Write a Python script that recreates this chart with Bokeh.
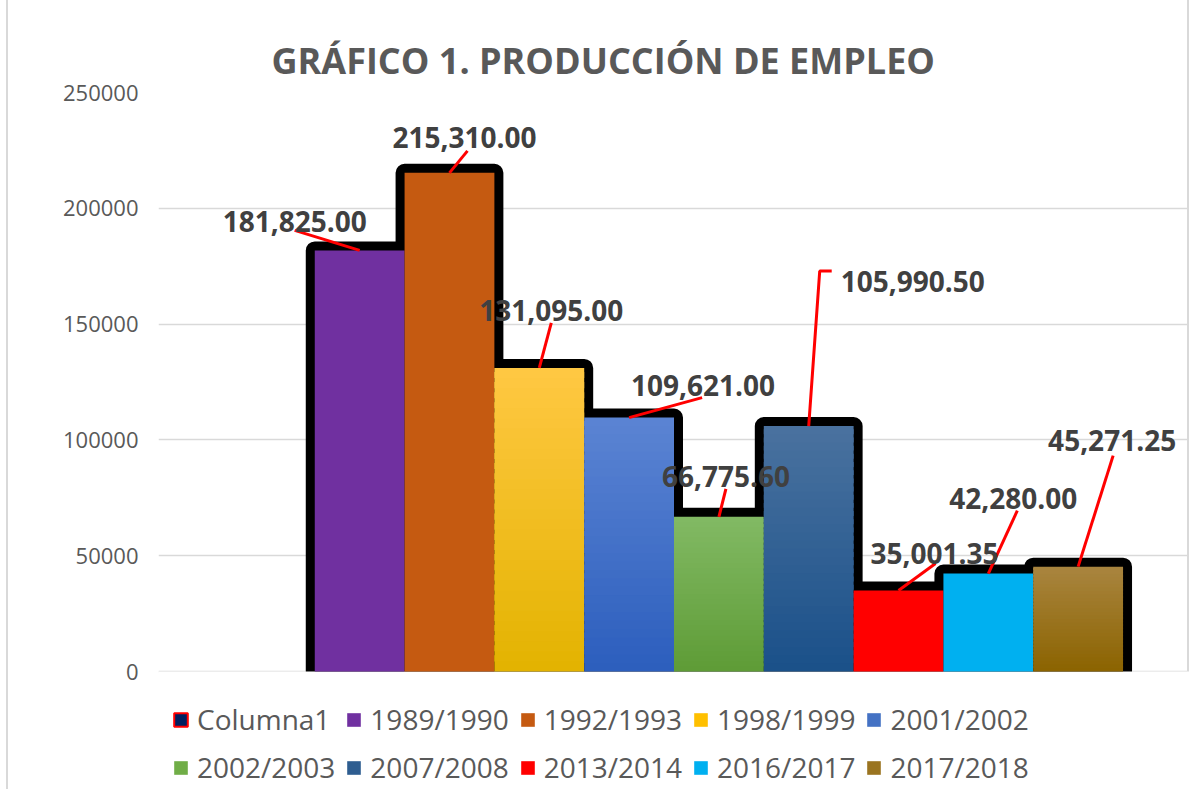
from bokeh.plotting import figure
from bokeh.models import Range1d, FixedTicker, NumeralTickFormatter, Legend, LegendItem, ColumnDataSource
from bokeh.embed import file_html
from bokeh.resources import INLINE
from bokeh.core.properties import value

# ---------------- data ----------------
title_text = "GRÁFICO 1. PRODUCCIÓN DE EMPLEO"
legend_names = ["Columna1", "1989/1990", "1992/1993", "1998/1999", "2001/2002",
                "2002/2003", "2007/2008", "2013/2014", "2016/2017", "2017/2018"]
bar_names = ["1989/1990", "1992/1993", "1998/1999", "2001/2002",
             "2002/2003", "2007/2008", "2013/2014", "2016/2017", "2017/2018"]
bar_values = [181825.00, 215310.00, 131095.00, 109621.00,
              66775.60, 105990.50, 35001.35, 42280.00, 45271.25]
y_ticks = [0, 50000, 100000, 150000, 200000, 250000]

# ---------------- styles ----------------
top_colors = ["#7030A0", "#C55A11", "#FFC843", "#5B84D3", "#82B964", "#4A729F", "#FF0000", "#00B0F0", "#A9853F"]
bot_colors = ["#7030A0", "#C55A11", "#E3B300", "#2C5EBD", "#5E9C36", "#1A5089", "#FF0000", "#00B0F0", "#8B6300"]
legend_colors = ["#002060", "#7030A0", "#C55A11", "#FFC000", "#4472C4",
                 "#70AD47", "#2E5D90", "#FF0000", "#00B0F0", "#9A7420"]
# label offsets in pixels from bar top centre (dx right, dy up)
lab_dx = [-65, 15, 12, 74, 7, 104, 36, 25, 34]
lab_dy = [29, 35, 57, 32, 40, 145, 37, 75, 126]
# leader line points in pixels from bar top centre
lead_pts = [[(-65, 20)], [(18, 22)], [(12, 45)], [(73, 20)], [(7, 28)],
            [(11, 155), (23, 155)], [(37, 27)], [(29, 63)], [(35, 111)]]

W, H = 1189, 789
ML, MT = 158, 92
AXIS_BOTTOM_PX = 671          # pixel row of value 0
PAD = 0.74
n_slots = len(legend_names)
x0, x1 = -PAD, n_slots + PAD
y_top = 250000
fw = W - ML
ppx = fw / (x1 - x0)
ppy = (AXIS_BOTTOM_PX - MT) / y_top
y_bottom = -(H - AXIS_BOTTOM_PX) / ppy
NAN = float("nan")

p = figure(width=W, height=H, output_backend="svg", toolbar_location=None,
           x_range=Range1d(x0, x1), y_range=Range1d(y_bottom, y_top),
           min_border_left=ML, min_border_right=0, min_border_top=MT, min_border_bottom=0)
p.outline_line_color = None
p.background_fill_color = None
p.border_fill_color = None
p.styles = {"box-shadow": "inset 6px 0 0 white, inset 8px 0 0 #D9D9D9, inset -2px 0 0 #D9D9D9",
            "background": "white"}
p.xaxis.visible = False
p.xgrid.grid_line_color = None
p.ygrid.grid_line_color = "#D9D9D9"
p.ygrid.grid_line_width = 1.5
p.ygrid.ticker = FixedTicker(ticks=y_ticks)
yax = p.yaxis[0]
yax.ticker = FixedTicker(ticks=y_ticks)
yax.formatter = NumeralTickFormatter(format="0")
yax.axis_line_color = None
yax.major_tick_line_color = None
yax.minor_tick_line_color = None
yax.major_tick_out = 0
yax.major_label_standoff = 20
yax.major_label_text_font = "Open Sans"
yax.major_label_text_font_size = "22px"
yax.major_label_text_color = "#595959"

p.title.text = title_text
p.title.align = "left"
p.title.offset = 113
p.title.standoff = 15
p.title.text_font = "Open Sans"
p.title.text_font_size = "36px"
p.title.text_font_style = "bold"
p.title.text_color = "#595959"

xs = [i + 1.5 for i in range(len(bar_names))]

# black rounded shadow frames (behind all bars)
p.vbar(x=xs, top=bar_values, bottom=0, width=1.0, fill_color="black",
       line_color="black", line_width=18, line_join="round")
# white band hiding the frame below the value axis
p.quad(left=[x0], right=[x1], bottom=[y_bottom], top=[0], fill_color="white", line_color=None)


def mix(c1, c2, t):
    a = [int(c1[i:i + 2], 16) for i in (1, 3, 5)]
    b = [int(c2[i:i + 2], 16) for i in (1, 3, 5)]
    return "#%02x%02x%02x" % tuple(round(a[k] + (b[k] - a[k]) * t) for k in range(3))


N = 30
for i, v in enumerate(bar_values):
    if top_colors[i] == bot_colors[i]:
        p.vbar(x=[xs[i]], top=[v], bottom=0, width=1.0, fill_color=top_colors[i], line_color=None)
    else:
        bots = [v * k / N for k in range(N)]
        tops = [min(v, v * (k + 1.6) / N) for k in range(N)]
        cols = [mix(bot_colors[i], top_colors[i], (k + 0.5) / N) for k in range(N)]
        src = ColumnDataSource(dict(x=[xs[i]] * N, b=bots, t=tops, c=cols))
        p.vbar(x="x", top="t", bottom="b", width=1.0, fill_color="c", line_color=None, source=src)

# leader lines
lx, ly = [], []
for i, v in enumerate(bar_values):
    px = [xs[i]] + [xs[i] + dx / ppx for dx, dy in lead_pts[i]]
    py = [v] + [v + dy / ppy for dx, dy in lead_pts[i]]
    lx.append(px)
    ly.append(py)
p.multi_line(xs=lx, ys=ly, line_color="#FF0000", line_width=3)

# data labels
lab_x = [xs[i] + lab_dx[i] / ppx for i in range(len(bar_values))]
lab_y = [bar_values[i] + lab_dy[i] / ppy for i in range(len(bar_values))]
lab_t = [f"{v:,.2f}" for v in bar_values]
p.text(x=lab_x, y=lab_y, text=lab_t, text_align="center", text_baseline="middle",
       text_font=value("Open Sans"), text_font_style="bold", text_font_size="28px",
       text_color="#404040")

# legend (non-drawing renderers that only supply the swatches)
items = []
for k, name in enumerate(legend_names):
    if k == 0:
        r = p.vbar(x=[NAN], top=[NAN], width=1, fill_color=legend_colors[k],
                   line_color="#FF0000", line_width=2)
    else:
        r = p.vbar(x=[NAN], top=[NAN], width=1, fill_color=legend_colors[k], line_color=None)
    items.append(LegendItem(label=name, renderers=[r]))
legend = Legend(items=items, ncols=5, orientation="horizontal", location=(14, 3),
                glyph_width=17, glyph_height=17, label_standoff=8, spacing=10,
                padding=0, margin=0, label_text_font="Open Sans", label_text_font_size="28px",
                label_text_color="#595959", background_fill_alpha=0, border_line_alpha=0)
p.add_layout(legend, "center")

open("out.html", "w").write(file_html(p, INLINE))
